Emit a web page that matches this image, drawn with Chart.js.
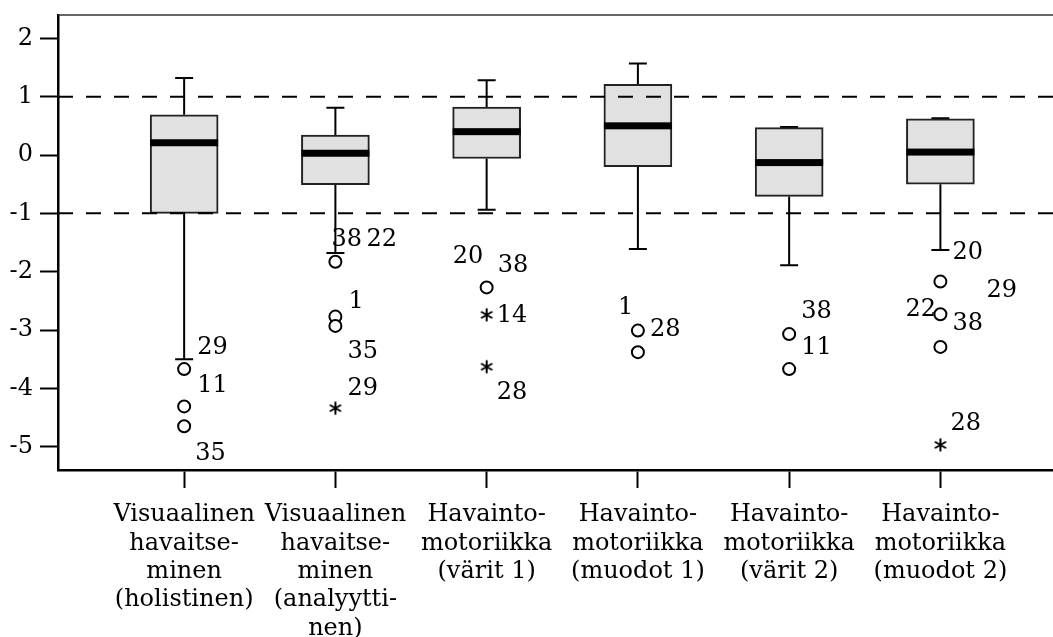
<!DOCTYPE html>
<html>
<head>
<meta charset="utf-8">
<script src="https://cdn.jsdelivr.net/npm/chart.js@4"></script>
<style>
  body { margin: 0; overflow: hidden; background: #fff; }
  #wrap { width: 1070px; height: 637px; position: relative; }
</style>
</head>
<body>
<div id="wrap"><canvas id="boxChart"></canvas></div>
<script>
// Kategoriat (monirivinen nimi)
const categories = [
  ["Visuaalinen", "havaitse-", "minen", "(holistinen)"],
  ["Visuaalinen", "havaitse-", "minen", "(analyytti-", "nen)"],
  ["Havainto-", "motoriikka", "(värit 1)"],
  ["Havainto-", "motoriikka", "(muodot 1)"],
  ["Havainto-", "motoriikka", "(värit 2)"],
  ["Havainto-", "motoriikka", "(muodot 2)"],
];

// Laatikkokuvion tunnusluvut
const whiskerHigh = [1.32, 0.81, 1.28, 1.57, 0.48, 0.63];
const q3 = [0.69, 0.34, 0.82, 1.21, 0.47, 0.62];
const medians = [0.21, 0.03, 0.4, 0.5, -0.13, 0.05];
const q1 = [-1.0, -0.51, -0.06, -0.2, -0.71, -0.5];
const whiskerLow = [-3.5, -1.68, -0.94, -1.61, -1.89, -1.63];

// Poikkeavat havainnot (ympyrä) ja ääriarvot (tähti)
const outlierCat = [0, 0, 0, 1, 1, 1, 2, 3, 3, 4, 4, 5, 5, 5];
const outlierVal = [-3.67, -4.31, -4.65, -1.83, -2.77, -2.93, -2.27, -3.01, -3.38, -3.07, -3.67, -2.17, -2.73, -3.29];
const extremeCat = [1, 2, 2, 5];
const extremeVal = [-4.34, -2.74, -3.63, -4.97];

// Havaintojen numerot
const labelCat = [0, 0, 0, 1, 1, 1, 1, 1, 2, 2, 2, 2, 3, 3, 4, 4, 5, 5, 5, 5, 5];
const labelText = ["29", "11", "35", "38", "22", "1", "35", "29", "20", "38", "14", "28", "1", "28", "38", "11", "20", "29", "22", "38", "28"];
const labelVal = [-3.31, -3.95, -5.13, -1.46, -1.46, -2.52, -3.38, -4.0, -1.75, -1.9, -2.76, -4.07, -2.62, -3.0, -2.68, -3.31, -1.68, -2.33, -2.66, -2.9, -4.61];

// Viitearvot (katkoviivat) ja y-akselin jaot
const refLines = [1, -1];
const yTickValues = [2, 1, 0, -1, -2, -3, -4, -5];

// tekstien vaakasiirrot pisteestä (px)
const labelDx = [13, 13, 11, -4, 31, 13, 12, 12, -34, 11, 10, 10, -20, 12, 12, 12, 12, 46, -35, 12, 10];

const FONT = "'DejaVu Serif', serif";

// pieni asteriski ääriarvoille
function makeStar() {
  const c = document.createElement("canvas");
  c.width = 16;
  c.height = 16;
  const g = c.getContext("2d");
  g.strokeStyle = "#000";
  g.lineWidth = 2;
  g.beginPath();
  for (let k = 0; k < 3; k++) {
    const a = Math.PI / 2 + (k * Math.PI) / 3;
    g.moveTo(8 + Math.cos(a) * 6.5, 8 + Math.sin(a) * 6.5);
    g.lineTo(8 - Math.cos(a) * 6.5, 8 - Math.sin(a) * 6.5);
  }
  g.stroke();
  return c;
}

const boxPlugin = {
  id: "boxParts",
  beforeDatasetsDraw(chart) {
    const { ctx, scales: { x, y } } = chart;
    ctx.save();
    ctx.strokeStyle = "#000";
    ctx.lineWidth = 2;
    categories.forEach((c, i) => {
      const px = x.getPixelForValue(i);
      const yHi = y.getPixelForValue(whiskerHigh[i]);
      const yLo = y.getPixelForValue(whiskerLow[i]);
      ctx.beginPath();
      ctx.moveTo(px, y.getPixelForValue(q3[i]));
      ctx.lineTo(px, yHi);
      ctx.moveTo(px - 9, yHi);
      ctx.lineTo(px + 9, yHi);
      ctx.moveTo(px, y.getPixelForValue(q1[i]));
      ctx.lineTo(px, yLo);
      ctx.moveTo(px - 9, yLo);
      ctx.lineTo(px + 9, yLo);
      ctx.stroke();
    });
    ctx.restore();
  },
  afterDatasetsDraw(chart) {
    const { ctx, chartArea, scales: { x, y } } = chart;
    ctx.save();
    // mediaanit
    ctx.fillStyle = "#000";
    categories.forEach((c, i) => {
      const px = x.getPixelForValue(i);
      const py = y.getPixelForValue(medians[i]);
      ctx.fillRect(px - 34, py - 3.5, 68, 7);
    });
    // katkoviivat
    ctx.strokeStyle = "#000";
    ctx.lineWidth = 2;
    ctx.setLineDash([15, 13]);
    refLines.forEach((v) => {
      const py = y.getPixelForValue(v);
      ctx.beginPath();
      ctx.moveTo(chartArea.left, py);
      ctx.lineTo(chartArea.right, py);
      ctx.stroke();
    });
    ctx.setLineDash([]);
    // yläreuna
    ctx.strokeStyle = "#333";
    ctx.lineWidth = 1.5;
    ctx.beginPath();
    ctx.moveTo(chartArea.left, chartArea.top);
    ctx.lineTo(chartArea.right, chartArea.top);
    ctx.stroke();
    // numerot
    ctx.fillStyle = "#000";
    ctx.font = "24px " + FONT;
    ctx.textAlign = "left";
    ctx.textBaseline = "middle";
    labelText.forEach((t, i) => {
      const px = x.getPixelForValue(labelCat[i]) + labelDx[i];
      const py = y.getPixelForValue(labelVal[i]);
      ctx.fillText(t, px, py);
    });
    ctx.restore();
  },
};

new Chart(document.getElementById("boxChart"), {
  type: "bar",
  data: {
    datasets: [
      {
        type: "bar",
        data: categories.map((c, i) => ({ x: i, y: [q1[i], q3[i]] })),
        backgroundColor: "#e1e1e1",
        borderColor: "#222",
        borderWidth: 2,
        borderSkipped: false,
        barThickness: 68,
        order: 2,
      },
      {
        type: "scatter",
        data: outlierCat.map((c, i) => ({ x: c, y: outlierVal[i] })),
        pointStyle: "circle",
        pointRadius: 6,
        backgroundColor: "#fff",
        borderColor: "#000",
        borderWidth: 2,
        order: 1,
      },
      {
        type: "scatter",
        data: extremeCat.map((c, i) => ({ x: c, y: extremeVal[i] })),
        pointStyle: makeStar(),
        pointRadius: 7,
        order: 1,
      },
    ],
  },
  options: {
    responsive: true,
    maintainAspectRatio: false,
    animation: false,
    layout: { padding: { top: 15, left: 0, right: 0, bottom: 0 } },
    plugins: { legend: { display: false }, tooltip: { enabled: false } },
    scales: {
      x: {
        type: "linear",
        offset: false,
        min: -0.834,
        max: 5.804,
        afterBuildTicks: (scale) => {
          scale.ticks = categories.map((c, i) => ({ value: i }));
        },
        afterFit: (scale) => {
          scale.height = 167;
          scale.paddingLeft = 0;
          scale.paddingRight = 0;
        },
        grid: {
          offset: false,
          drawOnChartArea: false,
          tickLength: 18,
          tickWidth: 2,
          tickColor: "#000",
        },
        border: { display: true, color: "#000", width: 2.5 },
        ticks: {
          autoSkip: false,
          maxRotation: 0,
          padding: 13,
          color: "#000",
          font: { family: FONT, size: 24, lineHeight: 1.18 },
          callback: (v) => categories[v],
        },
      },
      y: {
        min: -5.4,
        max: 2.4,
        afterBuildTicks: (scale) => {
          scale.ticks = yTickValues.map((v) => ({ value: v }));
        },
        afterFit: (scale) => {
          scale.width = 58;
          scale.paddingTop = 0;
          scale.paddingBottom = 0;
        },
        grid: {
          drawOnChartArea: false,
          tickLength: 18,
          tickWidth: 2,
          tickColor: "#000",
        },
        border: { display: true, color: "#000", width: 2.5 },
        ticks: {
          padding: 7,
          color: "#000",
          font: { family: FONT, size: 24 },
          callback: (v) => String(v),
        },
      },
    },
  },
  plugins: [boxPlugin],
});
</script>
</body>
</html>
